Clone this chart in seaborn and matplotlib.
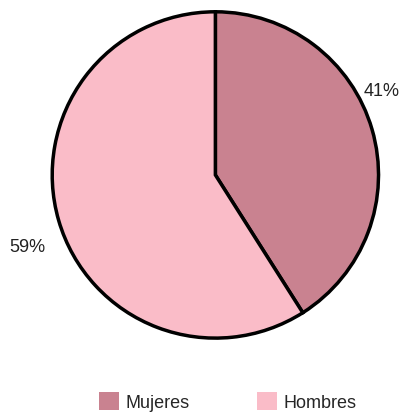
import seaborn as sns
import matplotlib.pyplot as plt
from matplotlib.patches import Patch

# Datos
categorias = ['Mujeres', 'Hombres']
valores = [41, 59]
colores = ['#C98290', '#FABCC8']

sns.set_theme(style='white')
plt.rcParams['font.family'] = ['Liberation Sans', 'DejaVu Sans']

fig = plt.figure(figsize=(4.03, 4.14), dpi=100)
ax = fig.add_axes([0.0, 0.135, 1.0, 0.88])

wedges, textos, autotextos = ax.pie(
    valores, colors=colores, startangle=90, counterclock=False,
    autopct='%1.0f%%', pctdistance=1.17, radius=1.0,
    wedgeprops=dict(edgecolor='black', linewidth=2.5),
    textprops=dict(fontsize=13, color='#222222'))
# etiquetas un poco desplazadas como en el original
autotextos[0].set_position((1.02, 0.515))
autotextos[1].set_position((-1.15, -0.436))
ax.set_aspect('equal')
ax.set_xlim(-1.32, 1.15)
ax.set_ylim(-1.0, 1.0)

handles = [Patch(facecolor=c, edgecolor='none') for c in colores]
fig.legend(handles, categorias, loc='lower center', ncol=2, frameon=False,
           fontsize=13, handlelength=1.1, handleheight=1.1,
           columnspacing=3.7, handletextpad=0.4, bbox_to_anchor=(0.565, -0.035))

plt.savefig('out.png', dpi=100)
